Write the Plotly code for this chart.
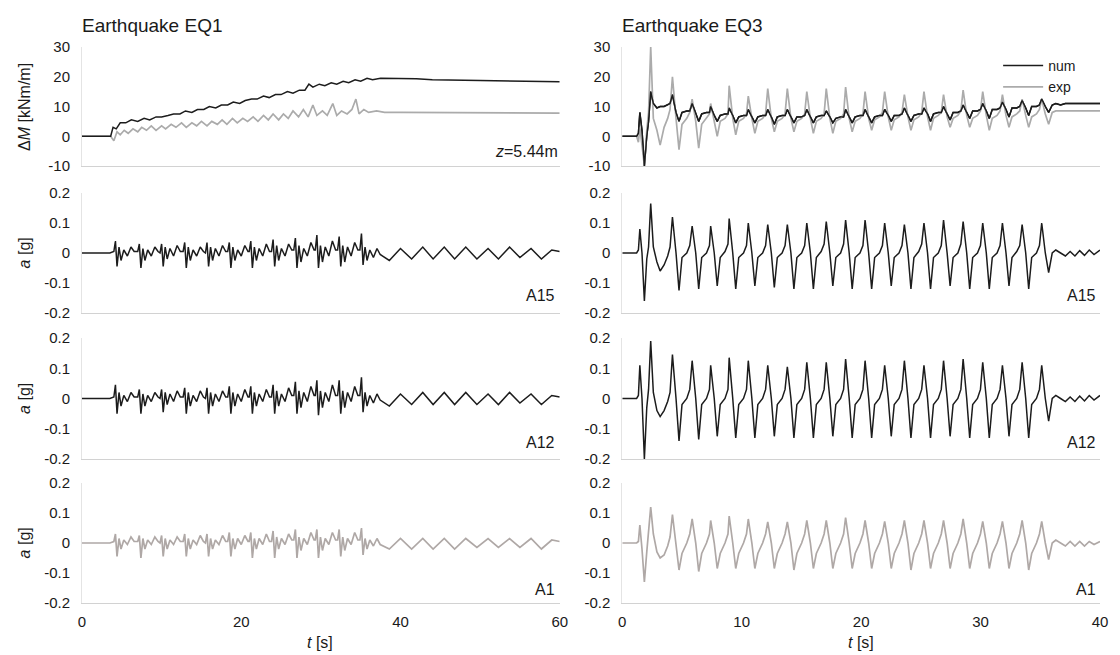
import plotly.graph_objects as go
from plotly.subplots import make_subplots

# ---------------- Earthquake EQ1 : bending moment change dM [kNm/m] ----------------
t_m1_num = [0, 3.6, 3.9, 4.3, 4.8, 5.5, 6.2, 7.0, 7.8, 8.5, 9.3, 10.0, 10.8, 11.5, 12.3, 13.0,
            13.8, 14.5, 15.3, 16.0, 16.8, 17.5, 18.3, 19.0, 19.8, 20.5, 21.3, 22.0, 22.8, 23.5,
            24.3, 25.0, 25.8, 26.5, 27.3, 28.0, 28.5, 29.0, 29.8, 30.5, 31.3, 32.0, 32.8, 33.5,
            34.3, 35.0, 35.8, 36.5, 37.5, 38.5, 40, 42, 44, 46, 48, 50, 52, 54, 56, 58, 60]
m1_num = [0, 0, 3.0, 2.5, 4.5, 4.5, 5.5, 5.0, 6.0, 5.5, 6.5, 6.5, 7.0, 7.5, 7.5, 8.5, 8.0, 9.0,
          9.0, 10.0, 9.5, 10.5, 10.5, 11.5, 11.0, 12.0, 12.5, 12.5, 13.5, 13.0, 14.0, 14.0, 15.0,
          14.5, 15.5, 15.5, 17.5, 16.5, 17.5, 17.0, 18.0, 17.5, 18.5, 18.0, 19.0, 18.5, 19.5,
          19.0, 19.5, 19.5, 19.5, 19.3, 19.0, 19.0, 18.8, 18.7, 18.6, 18.5, 18.5, 18.4, 18.3]
t_m1_exp = [0, 3.6, 4.0, 4.4, 4.8, 5.3, 5.8, 6.4, 7.0, 7.5, 8.1, 8.7, 9.3, 10.0, 10.5, 11.2,
            11.8, 12.5, 13.1, 13.8, 14.4, 15.0, 15.7, 16.3, 17.0, 17.6, 18.2, 18.9, 19.5, 20.2,
            20.8, 21.5, 22.1, 22.8, 23.4, 24.0, 24.7, 25.3, 25.9, 26.5, 27.2, 27.8, 28.4, 29.0,
            29.5, 30.2, 30.8, 31.5, 32.0, 32.6, 33.3, 33.9, 34.4, 34.8, 35.4, 36.0, 37, 38, 40,
            45, 50, 55, 60]
m1_exp = [0, 0, -1.5, 1.5, 0.5, 2.0, 1.0, 2.5, 1.5, 3.0, 2.0, 3.5, 2.0, 3.5, 2.5, 4.0, 3.0, 4.5,
          3.0, 4.5, 3.5, 5.0, 3.5, 5.0, 4.0, 5.5, 4.0, 6.0, 4.5, 6.0, 5.0, 6.5, 5.0, 7.0, 5.5,
          7.5, 5.5, 7.5, 6.0, 8.5, 6.5, 9.0, 6.5, 10.5, 7.0, 8.5, 7.0, 11.0, 7.0, 8.5, 7.5, 9.0,
          12.5, 7.5, 9.0, 8.0, 8.5, 8.0, 8.0, 8.0, 7.8, 7.8, 7.8]

# ---------------- Earthquake EQ1 : accelerations [g] ----------------
t_eq1 = [0.0, 3.5,
         4.0, 4.2, 4.4, 4.65, 4.9, 5.25, 5.7, 6.15, 6.55,
         7.0, 7.2, 7.4, 7.65, 7.9, 8.25, 8.7, 9.15, 9.55,
         9.8, 10.0, 10.2, 10.45, 10.7, 11.05, 11.5, 11.95, 12.35,
         12.7, 12.9, 13.1, 13.35, 13.6, 13.95, 14.4, 14.85, 15.25,
         15.5, 15.7, 15.9, 16.15, 16.4, 16.75, 17.2, 17.65, 18.05,
         18.3, 18.5, 18.7, 18.95, 19.2, 19.55, 20.0, 20.45, 20.85,
         21.0, 21.2, 21.4, 21.65, 21.9, 22.25, 22.7, 23.15, 23.55,
         23.8, 24.0, 24.2, 24.45, 24.7, 25.05, 25.5, 25.95, 26.35,
         26.6, 26.8, 27.0, 27.25, 27.5, 27.85, 28.3, 28.75, 29.15,
         29.3, 29.5, 29.7, 29.95, 30.2, 30.55, 31.0, 31.45, 31.85,
         32.1, 32.3, 32.5, 32.75, 33.0, 33.35, 33.8, 34.25, 34.65,
         34.9, 35.1, 35.3, 35.55, 35.8, 36.15, 36.6, 37.05, 37.45,
         38.6, 40.0, 41.4, 42.8, 44.1, 45.5, 46.8, 48.2, 49.6, 51.0, 52.3, 53.7, 55.0,
         56.4, 57.7, 59.0, 60.0]
a15_eq1 = [0.0, 0.0,
           0.005, 0.04, -0.045, 0.02, -0.025, 0.01, -0.01, 0.02, 0.005,
           0.005, 0.03, -0.05, 0.015, -0.025, 0.01, -0.01, 0.02, 0.005,
           0.0, 0.03, -0.045, 0.02, -0.02, 0.015, -0.01, 0.025, 0.005,
           0.005, 0.035, -0.05, 0.02, -0.025, 0.01, -0.01, 0.02, 0.005,
           0.0, 0.035, -0.045, 0.02, -0.025, 0.015, -0.01, 0.025, 0.005,
           0.005, 0.035, -0.05, 0.02, -0.025, 0.01, -0.01, 0.025, 0.005,
           0.005, 0.04, -0.05, 0.02, -0.025, 0.015, -0.01, 0.03, 0.005,
           0.005, 0.045, -0.045, 0.025, -0.025, 0.015, -0.01, 0.03, 0.01,
           0.01, 0.05, -0.05, 0.025, -0.03, 0.015, -0.01, 0.035, 0.01,
           0.01, 0.06, -0.05, 0.025, -0.03, 0.02, -0.01, 0.04, 0.01,
           0.01, 0.055, -0.045, 0.025, -0.03, 0.02, -0.01, 0.035, 0.01,
           0.01, 0.065, -0.04, 0.02, -0.025, 0.01, -0.015, 0.015, -0.005,
           -0.025, 0.015, -0.02, 0.02, -0.02, 0.02, -0.02, 0.02, -0.02, 0.015, -0.02, 0.02,
           -0.015, 0.015, -0.02, 0.01, 0.005]
a12_eq1 = [0.0, 0.0,
           0.005, 0.045, -0.05, 0.02, -0.025, 0.01, -0.01, 0.02, 0.005,
           0.005, 0.03, -0.05, 0.015, -0.025, 0.01, -0.01, 0.02, 0.005,
           0.0, 0.03, -0.045, 0.02, -0.02, 0.015, -0.01, 0.025, 0.005,
           0.005, 0.035, -0.05, 0.02, -0.025, 0.01, -0.01, 0.025, 0.005,
           0.0, 0.035, -0.05, 0.02, -0.025, 0.015, -0.01, 0.025, 0.005,
           0.005, 0.04, -0.05, 0.02, -0.025, 0.015, -0.01, 0.03, 0.005,
           0.005, 0.04, -0.05, 0.02, -0.025, 0.015, -0.01, 0.03, 0.005,
           0.005, 0.045, -0.05, 0.025, -0.025, 0.015, -0.01, 0.035, 0.01,
           0.01, 0.055, -0.05, 0.025, -0.03, 0.02, -0.01, 0.04, 0.01,
           0.01, 0.06, -0.055, 0.025, -0.03, 0.02, -0.01, 0.045, 0.01,
           0.01, 0.06, -0.05, 0.025, -0.03, 0.02, -0.01, 0.04, 0.01,
           0.01, 0.07, -0.045, 0.02, -0.025, 0.01, -0.015, 0.015, -0.005,
           -0.025, 0.015, -0.02, 0.02, -0.02, 0.02, -0.02, 0.02, -0.02, 0.015, -0.02, 0.02,
           -0.015, 0.015, -0.02, 0.01, 0.005]
a1_eq1 = [0.0, 0.0,
          0.005, 0.03, -0.045, 0.015, -0.02, 0.01, -0.005, 0.02, 0.005,
          0.005, 0.025, -0.05, 0.015, -0.02, 0.01, -0.005, 0.02, 0.005,
          0.0, 0.025, -0.045, 0.015, -0.02, 0.01, -0.005, 0.02, 0.005,
          0.005, 0.03, -0.045, 0.015, -0.02, 0.01, -0.005, 0.025, 0.005,
          0.0, 0.03, -0.045, 0.015, -0.02, 0.01, -0.005, 0.025, 0.005,
          0.005, 0.035, -0.045, 0.015, -0.02, 0.015, -0.005, 0.025, 0.005,
          0.005, 0.035, -0.05, 0.015, -0.02, 0.015, -0.005, 0.03, 0.005,
          0.005, 0.04, -0.05, 0.02, -0.02, 0.015, -0.005, 0.03, 0.01,
          0.01, 0.045, -0.05, 0.02, -0.025, 0.015, -0.005, 0.035, 0.01,
          0.01, 0.045, -0.05, 0.02, -0.025, 0.015, -0.005, 0.035, 0.01,
          0.01, 0.045, -0.045, 0.02, -0.025, 0.015, -0.005, 0.035, 0.01,
          0.01, 0.05, -0.04, 0.015, -0.02, 0.01, -0.01, 0.015, -0.005,
          -0.02, 0.015, -0.02, 0.015, -0.02, 0.015, -0.02, 0.015, -0.015, 0.015, -0.015, 0.015,
          -0.015, 0.015, -0.02, 0.01, 0.005]

# ---------------- Earthquake EQ3 : shared sample times ----------------
t_eq3 = [0.00, 1.20, 1.35, 1.47, 1.65, 1.85, 2.05, 2.20, 2.38, 2.60, 2.90, 3.17, 3.50, 3.80, 4.00,
         4.20, 4.50, 4.75, 5.00, 5.40, 5.65,
         5.85, 6.15, 6.40, 6.65, 7.05, 7.30,
         7.40, 7.70, 7.95, 8.20, 8.60, 8.85,
         8.95, 9.25, 9.50, 9.75, 10.15, 10.40,
         10.55, 10.85, 11.10, 11.35, 11.75, 12.00,
         12.18, 12.48, 12.73, 12.98, 13.38, 13.63,
         13.82, 14.12, 14.37, 14.62, 15.02, 15.27,
         15.45, 15.75, 16.00, 16.25, 16.65, 16.90,
         17.08, 17.38, 17.63, 17.88, 18.28, 18.53,
         18.70, 19.00, 19.25, 19.50, 19.90, 20.15,
         20.33, 20.63, 20.88, 21.13, 21.53, 21.78,
         21.97, 22.27, 22.52, 22.77, 23.17, 23.42,
         23.62, 23.92, 24.17, 24.42, 24.82, 25.07,
         25.26, 25.56, 25.81, 26.06, 26.46, 26.71,
         26.90, 27.20, 27.45, 27.70, 28.10, 28.35,
         28.54, 28.84, 29.09, 29.34, 29.74, 29.99,
         30.18, 30.48, 30.73, 30.98, 31.38, 31.63,
         31.83, 32.13, 32.38, 32.63, 33.03, 33.28,
         33.48, 33.78, 34.03, 34.28, 34.68, 34.93,
         35.12, 35.42, 35.70,
         36.00, 36.30, 36.70, 37.10, 37.50, 37.90, 38.30, 38.70, 39.10, 39.50, 40.00]

m3_num = [0, 0, 1, 8, 2, -10, 0, 5, 15, 11, 9.5, 10, 10, 10.5, 11,
          14, 8, 5, 8, 8.5, 8.5,
          11, 7.5, 5, 7.5, 8, 8,
          10, 7, 5, 7, 7.5, 7.5,
          9.5, 7, 4.5, 6.5, 7, 7,
          9, 6.5, 4.5, 6.5, 7, 7,
          9, 6.5, 4, 6.5, 7, 7,
          9, 6.5, 4.5, 6.5, 6.5, 7,
          9, 6.5, 4.5, 6.5, 7, 7,
          8.5, 6.5, 4.5, 6, 6.5, 6.5,
          9, 6.5, 4.5, 6.5, 7, 7,
          9, 6.5, 4.5, 6.5, 7, 7,
          9, 7, 5, 7, 7, 7.5,
          9.5, 7, 5, 7, 7.5, 7.5,
          9.5, 7.5, 5, 7.5, 8, 8,
          10, 7.5, 5.5, 8, 8, 8.5,
          10.5, 8, 6, 8.5, 8.5, 9,
          11, 8.5, 6, 9, 9, 9.5,
          11.5, 9, 6.5, 9.5, 9.5, 10,
          12, 9.5, 7, 10, 10, 10.5,
          12.5, 10, 8,
          10.5, 11, 10.5, 11, 11, 11, 11, 11, 11, 11, 11]
m3_exp = [0, 0, -2, 3, -3, -10, 2, 8, 30, 6, 2, -3, 3, 6, 9,
          20, 6, -4.5, 4, 6, 8,
          12.5, 5, -4, 4, 6, 7.5,
          11, 5, 0, 5, 6, 7.5,
          17, 6, 0.5, 5, 6, 7.5,
          13.5, 6, 1, 5, 6, 7.5,
          16, 6, 1.5, 5, 6, 7.5,
          16, 6, 1.5, 5, 6, 7.5,
          15, 6, 1, 5, 6, 7.5,
          16, 6, 1, 5, 6, 7.5,
          16.5, 6, 1.5, 5, 6, 7.5,
          15, 6, 2, 5.5, 6.5, 8,
          15, 6.5, 2, 5.5, 6.5, 8,
          14, 6.5, 2, 5.5, 6.5, 8,
          15, 6.5, 2, 6, 7, 8,
          14, 6.5, 3, 6, 7, 8.5,
          15.5, 7, 3, 6, 7, 8.5,
          15, 7, 2, 6, 7, 8.5,
          14, 7, 3, 6.5, 7.5, 8.5,
          12.5, 7, 3, 6.5, 7.5, 9,
          12.5, 7.5, 4,
          8, 8.5, 8.5, 8.5, 8.5, 8.5, 8.5, 8.5, 8.5, 8.5, 8.5]

a15_eq3 = [0.0, 0.0, 0.01, 0.08, 0.0, -0.16, -0.02, 0.02, 0.165, 0.02, -0.03, -0.06, -0.04, -0.01, 0.02,
           0.12, 0.0, -0.125, -0.015, 0.0, 0.025,
           0.09, 0.0, -0.12, -0.015, 0.0, 0.025,
           0.09, 0.0, -0.11, -0.015, 0.005, 0.03,
           0.115, 0.0, -0.12, -0.015, 0.0, 0.025,
           0.10, 0.0, -0.11, -0.015, 0.0, 0.025,
           0.095, 0.0, -0.115, -0.015, 0.0, 0.025,
           0.095, 0.0, -0.12, -0.015, 0.0, 0.025,
           0.10, 0.0, -0.12, -0.015, 0.005, 0.03,
           0.105, 0.0, -0.11, -0.015, 0.0, 0.03,
           0.11, 0.0, -0.12, -0.015, 0.0, 0.025,
           0.11, 0.0, -0.12, -0.015, 0.0, 0.025,
           0.10, 0.0, -0.11, -0.015, 0.0, 0.025,
           0.095, 0.0, -0.12, -0.015, 0.005, 0.03,
           0.10, 0.0, -0.12, -0.015, 0.0, 0.025,
           0.11, 0.0, -0.11, -0.015, 0.0, 0.03,
           0.105, 0.0, -0.12, -0.015, 0.0, 0.025,
           0.10, 0.0, -0.12, -0.015, 0.0, 0.025,
           0.10, 0.0, -0.11, -0.015, 0.005, 0.025,
           0.095, 0.0, -0.12, -0.015, 0.0, 0.025,
           0.10, 0.0, -0.065,
           0.0, 0.01, 0.0, -0.01, 0.005, -0.01, 0.008, -0.008, 0.01, -0.005, 0.01]
a12_eq3 = [0.0, 0.0, 0.01, 0.11, 0.0, -0.20, -0.03, 0.03, 0.19, 0.02, -0.04, -0.06, -0.04, -0.01, 0.02,
           0.145, 0.0, -0.14, -0.02, 0.0, 0.03,
           0.125, 0.0, -0.135, -0.02, 0.0, 0.03,
           0.11, 0.0, -0.125, -0.02, 0.0, 0.03,
           0.135, 0.0, -0.13, -0.02, 0.0, 0.03,
           0.125, 0.0, -0.13, -0.02, 0.0, 0.03,
           0.11, 0.0, -0.125, -0.02, 0.0, 0.03,
           0.105, 0.0, -0.13, -0.02, 0.0, 0.03,
           0.12, 0.0, -0.13, -0.02, 0.0, 0.03,
           0.12, 0.0, -0.125, -0.02, 0.0, 0.03,
           0.13, 0.0, -0.13, -0.02, 0.0, 0.03,
           0.125, 0.0, -0.13, -0.02, 0.0, 0.03,
           0.11, 0.0, -0.125, -0.02, 0.0, 0.03,
           0.125, 0.0, -0.13, -0.02, 0.0, 0.03,
           0.11, 0.0, -0.13, -0.02, 0.0, 0.03,
           0.125, 0.0, -0.125, -0.02, 0.0, 0.03,
           0.13, 0.0, -0.13, -0.02, 0.0, 0.03,
           0.12, 0.0, -0.13, -0.02, 0.0, 0.03,
           0.11, 0.0, -0.125, -0.02, 0.0, 0.03,
           0.12, 0.0, -0.13, -0.02, 0.0, 0.03,
           0.11, 0.0, -0.075,
           0.0, 0.01, 0.0, -0.01, 0.005, -0.01, 0.008, -0.008, 0.01, -0.005, 0.01]
a1_eq3 = [0.0, 0.0, 0.005, 0.06, -0.02, -0.13, -0.03, 0.04, 0.12, 0.03, -0.03, -0.05, -0.04, -0.01, 0.02,
          0.095, 0.0, -0.09, -0.035, 0.0, 0.03,
          0.08, 0.0, -0.095, -0.035, 0.0, 0.03,
          0.075, 0.0, -0.085, -0.035, 0.0, 0.03,
          0.09, 0.0, -0.085, -0.035, 0.0, 0.03,
          0.08, 0.0, -0.085, -0.035, 0.0, 0.03,
          0.07, 0.0, -0.085, -0.035, 0.0, 0.03,
          0.07, 0.0, -0.09, -0.035, 0.0, 0.03,
          0.075, 0.0, -0.085, -0.035, 0.0, 0.03,
          0.075, 0.0, -0.085, -0.035, 0.0, 0.03,
          0.085, 0.0, -0.085, -0.035, 0.0, 0.03,
          0.075, 0.0, -0.085, -0.035, 0.0, 0.03,
          0.072, 0.0, -0.085, -0.035, 0.0, 0.03,
          0.075, 0.0, -0.09, -0.035, 0.0, 0.03,
          0.075, 0.0, -0.085, -0.035, 0.0, 0.03,
          0.075, 0.0, -0.085, -0.035, 0.0, 0.03,
          0.08, 0.0, -0.085, -0.035, 0.0, 0.03,
          0.072, 0.0, -0.085, -0.035, 0.0, 0.03,
          0.072, 0.0, -0.085, -0.035, 0.0, 0.03,
          0.075, 0.0, -0.09, -0.035, 0.0, 0.03,
          0.072, 0.0, -0.055,
          0.0, 0.01, 0.0, -0.01, 0.005, -0.01, 0.005, -0.01, 0.005, -0.005, 0.005]

for name, tt, vv in [("m1_num", t_m1_num, m1_num), ("m1_exp", t_m1_exp, m1_exp),
                     ("a15_eq1", t_eq1, a15_eq1), ("a12_eq1", t_eq1, a12_eq1), ("a1_eq1", t_eq1, a1_eq1),
                     ("m3_num", t_eq3, m3_num), ("m3_exp", t_eq3, m3_exp),
                     ("a15_eq3", t_eq3, a15_eq3), ("a12_eq3", t_eq3, a12_eq3), ("a1_eq3", t_eq3, a1_eq3)]:
    assert len(tt) == len(vv), (name, len(tt), len(vv))

# ---------------- styling ----------------
BLACK = "#1c1c1c"
GREY = "#ababab"
GREY_A1 = "#afa8a6"
FONT = "Liberation Sans, Arial, sans-serif"
W, H = 1120, 655
ML, MR, MT, MB = 82, 13, 47, 52

fig = make_subplots(rows=4, cols=2)

def add(row, col, x, y, color, width=1.5, name=None, legend=False):
    fig.add_trace(go.Scatter(x=x, y=y, mode="lines", line=dict(color=color, width=width),
                             name=name, showlegend=legend, hoverinfo="skip"), row=row, col=col)

add(1, 1, t_m1_exp, m1_exp, GREY, 1.7)
add(1, 1, t_m1_num, m1_num, BLACK)
add(1, 2, t_eq3, m3_num, BLACK, 1.5, "num", True)
add(1, 2, t_eq3, m3_exp, GREY, 1.7, "exp", True)
fig.add_trace(go.Scatter(x=t_eq3, y=m3_num, mode="lines", line=dict(color=BLACK, width=1.4),
                         showlegend=False, hoverinfo="skip"), row=1, col=2)
add(2, 1, t_eq1, a15_eq1, BLACK)
add(3, 1, t_eq1, a12_eq1, BLACK)
add(4, 1, t_eq1, a1_eq1, GREY_A1, 1.7)
add(2, 2, t_eq3, a15_eq3, BLACK)
add(3, 2, t_eq3, a12_eq3, BLACK)
add(4, 2, t_eq3, a1_eq3, GREY_A1, 1.7)

plot_h = H - MT - MB
plot_w = W - ML - MR
row_px = [(47, 166), (193, 313), (338, 459), (483, 603)]
row_dom = [[(H - MB - b) / plot_h, (H - MB - a) / plot_h] for a, b in row_px]
col_dom = [[0, (563 - ML) / plot_w], [(626 - ML) / plot_w, 1]]

tick_font = dict(family=FONT, size=15, color="#1a1a1a")
for r in range(1, 5):
    for c in range(1, 3):
        fig.update_xaxes(row=r, col=c, domain=col_dom[c - 1],
                         range=[0, 60] if c == 1 else [0, 40],
                         tickvals=[0, 20, 40, 60] if c == 1 else [0, 10, 20, 30, 40],
                         showticklabels=(r == 4), ticks="", showgrid=False, zeroline=False,
                         showline=True, linecolor="#d2d2d2", linewidth=1,
                         tickfont=tick_font, ticklabelstandoff=5)
        if r == 1:
            yv = [-10, 0, 10, 20, 30]
            yt = ["-10", "0", "10", "20", "30"]
            yr = [-10, 30]
        else:
            yv = [-0.2, -0.1, 0, 0.1, 0.2]
            yt = ["-0.2", "-0.1", "0", "0.1", "0.2"]
            yr = [-0.2, 0.2]
        fig.update_yaxes(row=r, col=c, domain=row_dom[r - 1], range=yr, tickvals=yv, ticktext=yt,
                         ticks="", showgrid=False, zeroline=False, showline=True,
                         linecolor="#e4e4e4", linewidth=1, tickfont=tick_font,
                         ticklabelstandoff=8)

ann = []
def txt(text, x, y, xref="paper", yref="paper", xanchor="left", yanchor="middle", size=16, angle=0):
    ann.append(dict(text=text, x=x, y=y, xref=xref, yref=yref, xanchor=xanchor, yanchor=yanchor,
                    showarrow=False, textangle=angle, font=dict(family=FONT, size=size, color="#1a1a1a")))

def py(px):
    return (H - MB - px) / plot_h

def pxx(px):
    return (px - ML) / plot_w

txt("Earthquake EQ1", pxx(80), py(25), size=19)
txt("Earthquake EQ3", pxx(624), py(25), size=19)
txt("<i>z</i>=5.44m", 1.0, -5, xref="x domain", yref="y", xanchor="right", size=16)
labels = ["A15", "A12", "A1"]
lab_y = [-0.14, -0.145, -0.155]
for i, r in enumerate([2, 3, 4]):
    for c in (1, 2):
        n = (r - 1) * 2 + c
        txt(labels[i], 0.995, lab_y[i], xref="x%d domain" % n, yref="y%d" % n, xanchor="right", size=16)
# axis titles
txt("Δ<i>M</i> [kNm/m]", pxx(24), (row_dom[0][0] + row_dom[0][1]) / 2, xanchor="center", size=16, angle=-90)
for r in (2, 3, 4):
    txt("<i>a</i> [g]", pxx(24), (row_dom[r - 1][0] + row_dom[r - 1][1]) / 2, xanchor="center", size=16, angle=-90)
txt("<i>t</i> [s]", pxx(322), py(642), xanchor="center", size=16)
txt("<i>t</i> [s]", pxx(866), py(642), xanchor="center", size=16)

fig.update_layout(
    width=W, height=H,
    margin=dict(l=ML, r=MR, t=MT, b=MB),
    paper_bgcolor="white", plot_bgcolor="white",
    annotations=ann,
    showlegend=True,
    legend=dict(x=pxx(1088), y=py(50), xanchor="right", yanchor="top",
                bgcolor="rgba(0,0,0,0)", font=dict(family=FONT, size=14, color="#1a1a1a"),
                tracegroupgap=0, itemwidth=40),
    font=dict(family=FONT),
)

fig.write_html("out.html")
